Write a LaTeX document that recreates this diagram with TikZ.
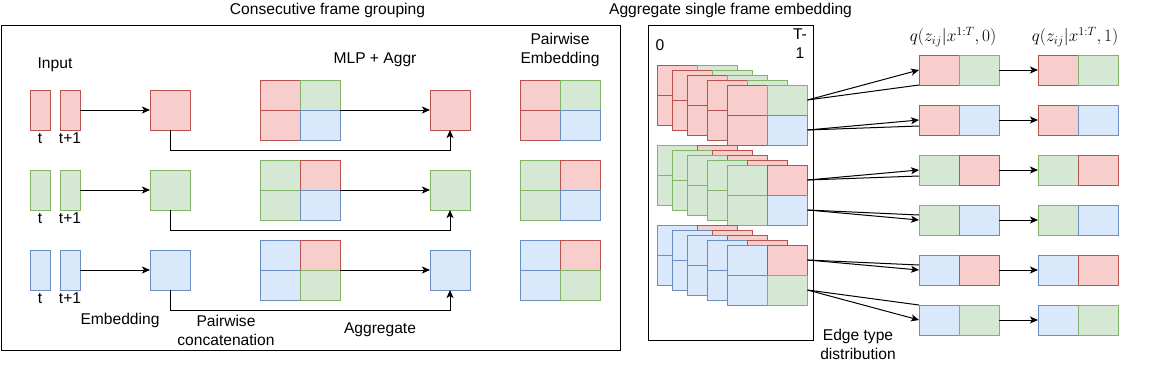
\documentclass[tikz,border=0pt]{standalone}
\usepackage[no-math]{fontspec}
\setmainfont{Liberation Sans}
\usetikzlibrary{arrows.meta,positioning}
\definecolor{redfill}{HTML}{F8CECC}
\definecolor{redline}{HTML}{B85450}
\definecolor{greenfill}{HTML}{D5E8D4}
\definecolor{greenline}{HTML}{82B366}
\definecolor{bluefill}{HTML}{DAE8FC}
\definecolor{blueline}{HTML}{6C8EBF}

\begin{document}
\begin{tikzpicture}[
  x=1pt, y=-1pt, font=\fontsize{15.6}{19}\selectfont,
  cell/.style={draw=#1line,fill=#1fill,line width=1pt,inner sep=0pt,outer sep=0pt,minimum width=40pt,minimum height=30pt},
  slab/.style={cell=#1,minimum width=20pt,minimum height=40pt},
  sq/.style={cell=#1,minimum height=40pt},
  panel/.style={draw=black,line width=1pt,inner sep=0pt,outer sep=0pt,anchor=north west},
  txt/.style={inner sep=0pt,align=center},
  qlbl/.style={txt,font=\fontsize{17.28}{20}\selectfont},
  arr/.style={-{Stealth[length=8pt,width=7pt,inset=2pt]},line width=1pt},
  link/.style={line width=1pt}]
\useasboundingbox (0,0) rectangle (1171,365);
% left panel
\node[panel,minimum width=619pt,minimum height=325pt] (lpanel) at (1,25) {};
\node[txt,above=7pt of lpanel,xshift=17pt] (ltitle) {Consecutive frame grouping};
\foreach \r/\dy/\ca/\cb/\cc in {1/0/red/green/blue,2/80/green/red/blue,3/160/blue/red/green}{
  \node[slab=\ca] (t\r) at (40,110+\dy) {};
  \node[slab=\ca,right=10pt of t\r] (tn\r) {};
  \node[txt,below=3pt of t\r] (tl\r) {t};
  \node[txt,below=3pt of tn\r] (tnl\r) {t+1};
  \node[sq=\ca,right=70pt of tn\r] (e\r) {};
  \node[cell=\ca,anchor=north west] (pc\r-a) at (260,80+\dy) {};
  \node[cell=\cb,right=0pt of pc\r-a] (pc\r-b) {};
  \node[cell=\ca,below=0pt of pc\r-a] (pc\r-c) {};
  \node[cell=\cc,right=0pt of pc\r-c] (pc\r-d) {};
  \node[sq=\ca] (m\r) at (450,110+\dy) {};
  \node[cell=\ca,right=220pt of pc\r-a] (pe\r-a) {};
  \node[cell=\cb,right=0pt of pe\r-a] (pe\r-b) {};
  \node[cell=\ca,below=0pt of pe\r-a] (pe\r-c) {};
  \node[cell=\cc,right=0pt of pe\r-c] (pe\r-d) {};
  \draw[arr] (tn\r) -- (e\r);
  \draw[arr] (pc\r-b.south east) -- (m\r);
  \draw[arr] (e\r.south) -- ++(0,20) -| (m\r.south);
}
\node[txt] (input) at (55,65) {Input};
\node[txt] (mlp) at (375,60) {MLP + Aggr};
\node[txt] (pemb) at (560,50) {Pairwise\\Embedding};
\node[txt] (emb) at (120,320) {Embedding};
\node[txt] (pcat) at (226,330) {Pairwise\\concatenation};
\node[txt] (aggr) at (380,330) {Aggregate};
% right panel
\node[panel,minimum width=165pt,minimum height=315pt] (rpanel) at (648,25) {};
\node[txt,above=7pt of rpanel] (rtitle) {Aggregate single frame embedding};
\node[txt] (first) at (660,45) {0};
\node[txt] (last) at (800,44) {T-\\1};
\foreach \g/\dy/\ca/\cb/\cc in {1/0/red/green/blue,2/80/green/red/blue,3/160/blue/red/green}
  \foreach \l/\x/\y in {1/657.5/65,2/672.5/70,3/687.5/75,4/707.5/80,5/727.5/85}{
    \node[cell=\ca,anchor=north west] (s\g\l-a) at (\x,\y+\dy) {};
    \node[cell=\cb,right=0pt of s\g\l-a] (s\g\l-b) {};
    \node[cell=\ca,below=0pt of s\g\l-a] (s\g\l-c) {};
    \node[cell=\cc,right=0pt of s\g\l-c] (s\g\l-d) {};
  }
\foreach \k/\ca/\cb/\y in {1/red/green/55,2/red/blue/105,3/green/red/155,4/green/blue/205,5/blue/red/255,6/blue/green/305}{
  \node[cell=\ca,anchor=north west] (qa\k-a) at (919,\y) {};
  \node[cell=\cb,right=0pt of qa\k-a] (qa\k-b) {};
  \node[cell=\ca,right=39pt of qa\k-b] (qb\k-a) {};
  \node[cell=\cb,right=0pt of qb\k-a] (qb\k-b) {};
  \draw[arr] (qa\k-b) -- (qb\k-a);
}
\foreach \k/\src/\off in {1/s15-b/-15,2/s15-d/-6,3/s25-b/-6,4/s25-d/5,5/s35-b/5,6/s35-d/15}{
  \draw[arr] (\src.east) -- (qa\k-a.west);
  \draw[link] (\src.east) -- ([yshift=\off pt]qa\k-a.west);
}
\node[qlbl] (q0) at (953,37) {$q(z_{ij}|x^{1:T},0)$};
\node[qlbl] (q1) at (1075,37) {$q(z_{ij}|x^{1:T},1)$};
\node[txt] (edge) at (858,344) {Edge type\\distribution};
\end{tikzpicture}
\end{document}
